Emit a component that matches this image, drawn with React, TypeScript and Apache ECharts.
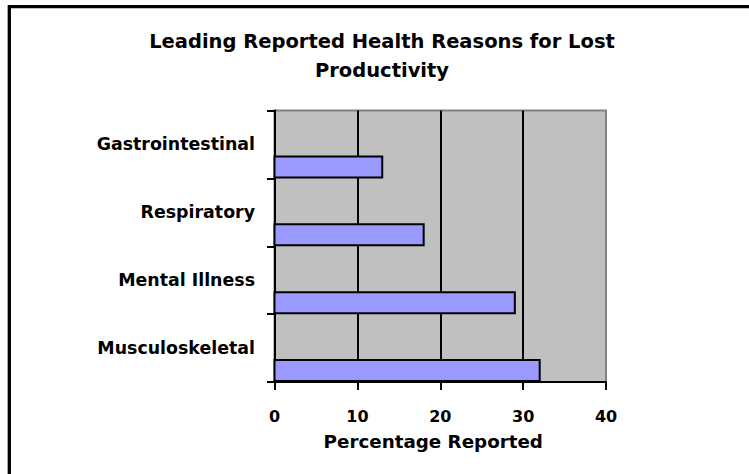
import React, { useEffect, useRef } from "react";
import * as echarts from "echarts";

const titleLines = ["Leading Reported Health Reasons for Lost", "Productivity"];
const categories = ["Musculoskeletal", "Mental Illness", "Respiratory", "Gastrointestinal"];
const percentages = [32, 29, 18, 13];
const xAxisTitle = "Percentage Reported";
const xMin = 0;
const xMax = 40;
const xInterval = 10;

const FONT = "DejaVu Sans";

export default function App() {
  const ref = useRef<HTMLDivElement>(null);

  useEffect(() => {
    if (!ref.current) return;
    const chart = echarts.init(ref.current, null, { renderer: "svg" });
    const barHeight = 22;
    chart.setOption({
      animation: false,
      backgroundColor: "#ffffff",
      title: {
        text: titleLines.join("\n"),
        left: 382,
        top: 27,
        padding: 0,
        textAlign: "center",
        textStyle: {
          fontFamily: FONT,
          fontWeight: "bold",
          fontSize: 19.5,
          lineHeight: 29,
          color: "#000",
        },
      },
      graphic: [
        {
          type: "rect",
          silent: true,
          z: -10,
          shape: { x: 9.3, y: 6.7, width: 800, height: 600 },
          style: { fill: "none", stroke: "#000", lineWidth: 3.3 },
        },
      ],
      grid: {
        left: 274.5,
        right: 143,
        top: 110.5,
        bottom: 92,
        show: true,
        backgroundColor: "#C0C0C0",
        borderColor: "#808080",
        borderWidth: 2,
        containLabel: false,
      },
      xAxis: {
        type: "value",
        min: xMin,
        max: xMax,
        interval: xInterval,
        name: xAxisTitle,
        nameLocation: "middle",
        nameGap: 50,
        nameTextStyle: {
          fontFamily: FONT,
          fontWeight: "bold",
          fontSize: 18.3,
          color: "#000",
          padding: [0, 14, 0, 0],
        },
        axisLine: { show: true, lineStyle: { color: "#000", width: 2 } },
        axisTick: { show: true, length: 8, lineStyle: { color: "#000", width: 2 } },
        axisLabel: {
          fontFamily: FONT,
          fontWeight: "bold",
          fontSize: 16,
          color: "#000",
          margin: 26,
        },
        splitLine: {
          show: true,
          showMinLine: false,
          showMaxLine: false,
          lineStyle: { color: "#000", width: 2 },
        },
      },
      yAxis: {
        type: "category",
        data: categories,
        boundaryGap: true,
        axisLine: { show: true, lineStyle: { color: "#000", width: 2 } },
        axisTick: { show: true, length: 7.5, lineStyle: { color: "#000", width: 2 } },
        axisLabel: {
          fontFamily: FONT,
          fontWeight: "bold",
          fontSize: 17.4,
          color: "#000",
          margin: 19.5,
        },
        splitLine: { show: false },
      },
      series: [
        {
          type: "custom",
          name: "Percentage Reported",
          data: percentages.map((v, i) => [v, i]),
          encode: { x: 0, y: 1 },
          z: 5,
          renderItem: (params: any, api: any) => {
            const idx = api.value(1);
            const start = api.coord([0, idx]);
            const end = api.coord([api.value(0), idx]);
            const band = api.size([0, 1])[1];
            const bottom = start[1] + band / 2 - 1;
            return {
              type: "rect",
              shape: {
                x: start[0],
                y: bottom - barHeight + 1,
                width: end[0] - start[0],
                height: barHeight - 1,
              },
              style: { fill: "#9999FF", stroke: "#000", lineWidth: 2 },
            };
          },
        },
      ],
    });
    return () => chart.dispose();
  }, []);

  return (
    <div
      ref={ref}
      style={{ position: "absolute", left: 0, top: 0, width: 749, height: 474 }}
    />
  );
}
